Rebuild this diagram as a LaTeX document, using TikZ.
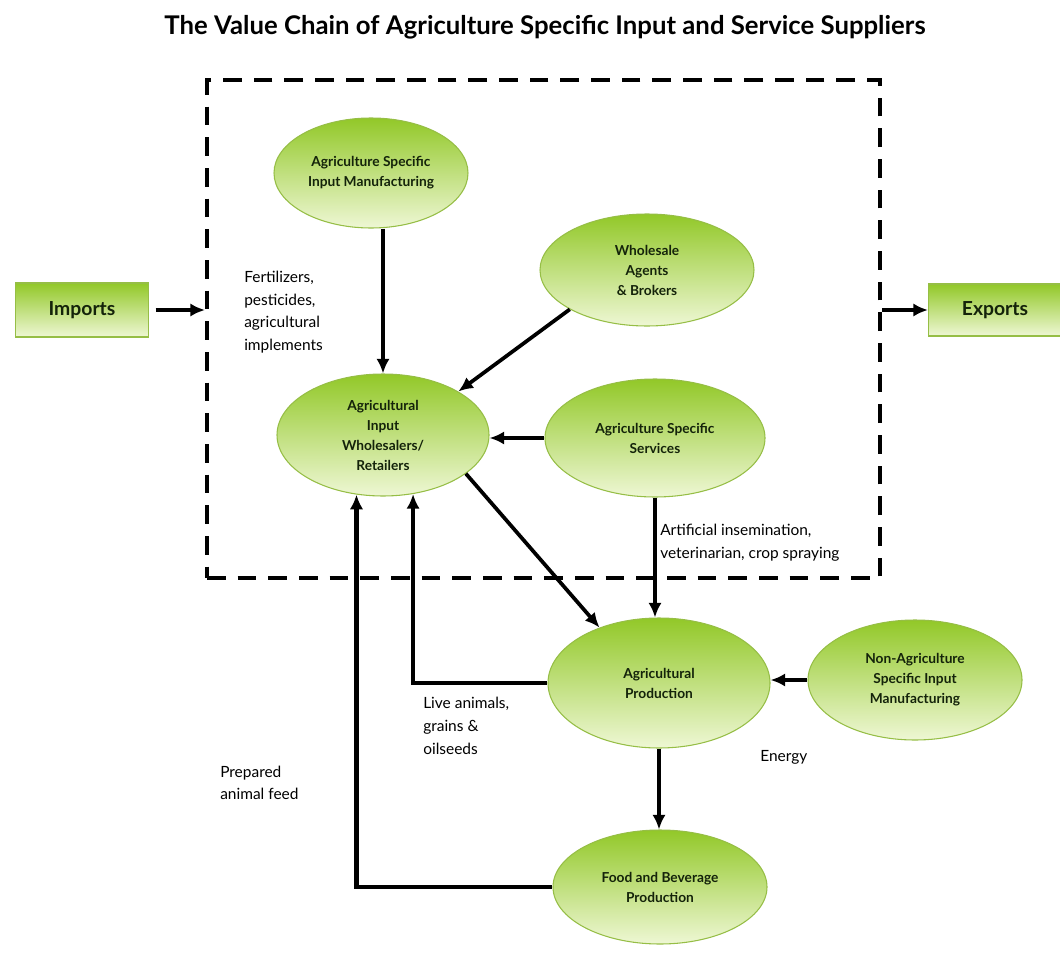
\documentclass[tikz,border=0pt]{standalone}
\usepackage{fontspec}
\setmainfont{Lato}
\usetikzlibrary{shapes.geometric,arrows.meta,calc}
\definecolor{gtop}{RGB}{146,200,40}
\definecolor{gbot}{RGB}{238,247,212}
\definecolor{gline}{RGB}{150,190,70}
\definecolor{txt}{RGB}{20,35,10}
\tikzset{
  ell/.style={ellipse, draw=gline, line width=0.8pt, top color=gtop, bottom color=gbot, inner sep=0pt, align=center, font=\bfseries\fontsize{10.3}{15}\selectfont, text=txt},
  rbox/.style={rectangle, draw=gline, line width=0.8pt, top color=gtop, bottom color=gbot, inner sep=0pt, font=\bfseries\fontsize{14.5}{16}\selectfont, text=txt},
  arr/.style={line width=2.8pt, -{Latex[length=11pt,width=10pt]}},
  feed/.style={line width=3.4pt, -{Latex[length=11pt,width=10pt]}},
  lbl/.style={align=left, font=\fontsize{11.6}{17}\selectfont, inner sep=0pt, anchor=west},
}
\begin{document}
\begin{tikzpicture}[x=0.75pt,y=-0.75pt]
\useasboundingbox (0,0) rectangle (1060,960);
\node[font=\bfseries\fontsize{19.3}{21}\selectfont] (title) at (545,27) {The Value Chain of Agriculture Specific Input and Service Suppliers};
\node[draw, line width=3pt, dash pattern=on 14pt off 9pt, minimum width=504.75pt, minimum height=373.5pt, inner sep=0pt] (box) at (543.5,329) {};
\node[rbox, minimum width=99.75pt, minimum height=40.5pt] (imp) at (82,310) {Imports};
\node[rbox, minimum width=99.75pt, minimum height=39pt] (exp) at (995,310) {Exports};
\node[ell, minimum width=145.5pt, minimum height=82.5pt] (e1) at (371,173) {Agriculture Specific\\Input Manufacturing};
\node[ell, minimum width=160.5pt, minimum height=84pt] (e2) at (647,270) {Wholesale\\Agents\\\& Brokers};
\node[ell, minimum width=159pt, minimum height=91.5pt] (e3) at (383,435) {Agricultural\\Input\\Wholesalers/\\Retailers};
\node[ell, minimum width=165pt, minimum height=88.5pt] (e4) at (655,438) {Agriculture Specific\\Services};
\node[ell, minimum width=166.5pt, minimum height=97.5pt] (e5) at (659,683) {Agricultural\\Production};
\node[ell, minimum width=160.5pt, minimum height=90pt] (e6) at (915,680) {Non-Agriculture\\Specific Input\\Manufacturing};
\node[ell, minimum width=160.5pt, minimum height=85.5pt] (e7) at (660,887) {Food and Beverage\\Production};
\node[lbl] (l1) at (244,312) {Fertilizers,\\pesticides,\\agricultural\\implements};
\node[lbl] (l2) at (660,543) {Artificial insemination,\\veterinarian, crop spraying};
\node[lbl] (l3) at (423,726) {Live animals,\\grains \&\\oilseeds};
\node[lbl] (l4) at (220,783) {Prepared\\animal feed};
\node[lbl] (l5) at (760,757) {Energy};
\draw[arr, shorten <=5pt] (imp.east) -- (imp.east -| box.west);
\draw[arr] (exp.west -| box.east) -- (exp.west);
\draw[arr] (e1.south -| e3.north) -- (e3.north);
\draw[arr] (e2.207) -- (e3.30);
\draw[arr] (e4.west) -- (e4.west -| e3.east);
\draw[arr] (e3.335) -- (e5.137);
\draw[arr] (e4.south) -- (e4.south |- e5.north);
\draw[arr] (e6.west) -- (e6.west -| e5.east);
\draw[feed] (e5.west) -| (e3.297);
\draw[arr] (e5.south) -- (e5.south |- e7.north);
\draw[feed] (e7.west) -| (e3.246);
\end{tikzpicture}
\end{document}
